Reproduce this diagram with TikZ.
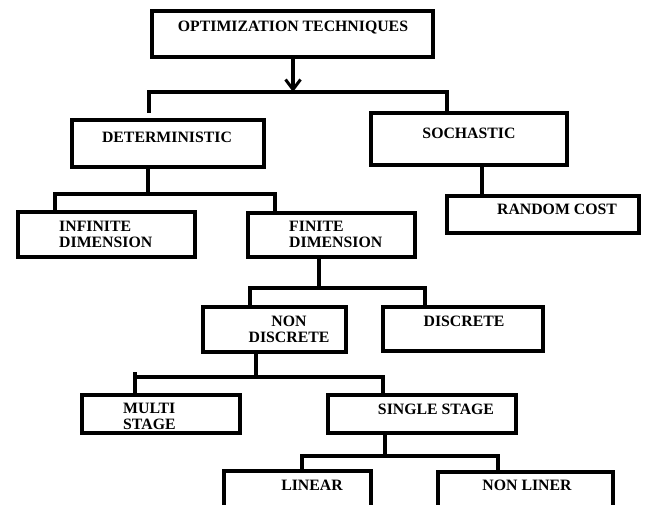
\documentclass[tikz,border=0pt]{standalone}
\usepackage{fontspec}
\setmainfont{Liberation Serif}
\usetikzlibrary{arrows.meta}
\tikzset{
	box/.style={draw, line width=3.2pt, inner sep=0pt},
	lbl/.style={inner sep=0pt, font=\fontsize{15.8}{15.8}\selectfont\bfseries},
	link/.style={line width=3.2pt}
}
\begin{document}
\begin{tikzpicture}[x=1pt, y=-1pt]
			\useasboundingbox (0,0) rectangle (645,505);
			\clip (0,0) rectangle (645,505);
			%boxes
			\node[box, minimum width=281pt, minimum height=46pt] (opt) at (292.5,34) {};
			\node[box, minimum width=192pt, minimum height=47pt] (det) at (168,143.5) {};
			\node[box, minimum width=196pt, minimum height=52pt] (soc) at (469,139) {};
			\node[box, minimum width=192pt, minimum height=37pt] (rand) at (543,214.5) {};
			\node[box, minimum width=177pt, minimum height=45pt] (inf) at (106.5,234.5) {};
			\node[box, minimum width=167pt, minimum height=44pt] (fin) at (331.5,235) {};
			\node[box, minimum width=143pt, minimum height=45pt] (nond) at (274.5,329.5) {};
			\node[box, minimum width=160pt, minimum height=44pt] (disc) at (463,329) {};
			\node[box, minimum width=158pt, minimum height=38pt] (multi) at (161,414) {};
			\node[box, minimum width=188pt, minimum height=38pt] (single) at (422,414) {};
			\node[box, minimum width=147pt, minimum height=59pt] (lin) at (297.5,500.5) {};
			\node[box, minimum width=175pt, minimum height=58pt] (nonlin) at (525.5,501) {};
			%texts
			\node[lbl] (optT) at (293,28) {OPTIMIZATION TECHNIQUES};
			\node[lbl] (detT) at (167,137) {DETERMINISTIC};
			\node[lbl] (socT) at (469,133) {SOCHASTIC};
			\node[lbl] (randT) at (557,209) {RANDOM COST};
			\node[lbl, anchor=west, align=left] (infT) at (59,234.5) {INFINITE\\DIMENSION};
			\node[lbl, anchor=west, align=left] (finT) at (289,234.5) {FINITE\\DIMENSION};
			\node[lbl, align=center] (nondT) at (289,329.5) {NON\\DISCRETE};
			\node[lbl] (discT) at (464,321) {DISCRETE};
			\node[lbl, anchor=west, align=left] (multiT) at (123,416.5) {MULTI\\STAGE};
			\node[lbl] (singleT) at (436,409) {SINGLE STAGE};
			\node[lbl] (linT) at (312,485) {LINEAR};
			\node[lbl] (nonlinT) at (527,485) {NON LINER};
			%junctions
			\coordinate (j1) at (293,92);
			\coordinate (b1l) at (149,92);
			\coordinate (b1r) at (447,92);
			\coordinate (e1) at (149,113);
			\coordinate (d6) at (482,180);
			\coordinate (d2) at (148,194);
			\coordinate (b2l) at (55,194);
			\coordinate (b2r) at (275,194);
			\coordinate (d3) at (319,288);
			\coordinate (b3l) at (250,288);
			\coordinate (b3r) at (425,288);
			\coordinate (d4) at (256,377);
			\coordinate (b4l) at (135,377);
			\coordinate (b4t) at (135,372);
			\coordinate (b4r) at (383,377);
			\coordinate (d5) at (385,456);
			\coordinate (b5l) at (302,456);
			\coordinate (b5r) at (498,456);
			%connectors
			\draw[link, -{Straight Barb[length=10pt, width=15pt, line width=3pt]}] (opt.south -| j1) -- (j1);
			\draw[link] (e1) |- (b1r) -- (soc.north -| b1r);
			\draw[link] (soc.south -| d6) -- (rand.north -| d6);
			\draw[link] (det.south -| d2) -- (d2);
			\draw[link] (inf.north -| b2l) |- (b2r) -- (fin.north -| b2r);
			\draw[link] (fin.south -| d3) -- (d3);
			\draw[link] (nond.north -| b3l) |- (b3r) -- (disc.north -| b3r);
			\draw[link] (nond.south -| d4) -- (d4);
			\draw[link] (multi.north -| b4l) -- (b4t);
			\draw[link] (b4l) -- (b4r) -- (single.north -| b4r);
			\draw[link] (single.south -| d5) -- (d5);
			\draw[link] (lin.north -| b5l) |- (b5r) -- (nonlin.north -| b5r);
\end{tikzpicture}
\end{document}
